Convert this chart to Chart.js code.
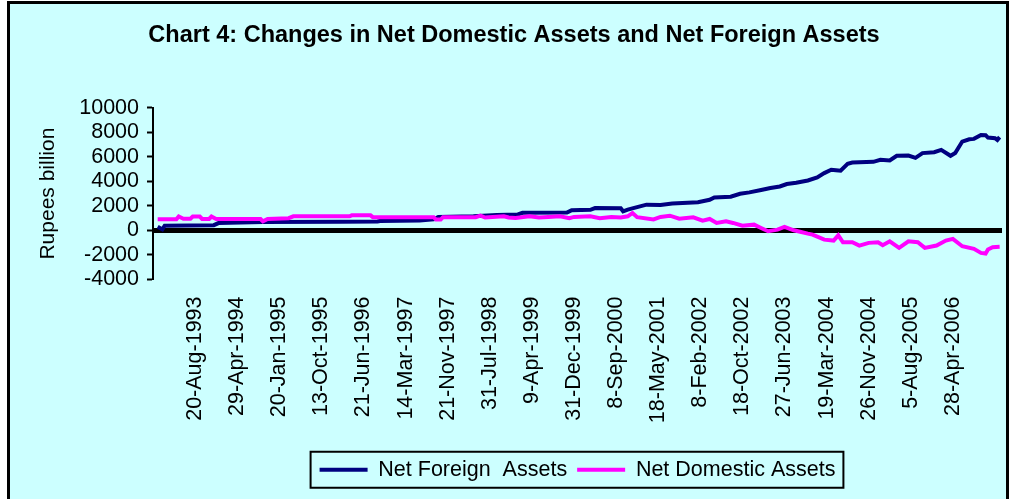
<!DOCTYPE html>
<html><head><meta charset="utf-8">
<script src="https://cdn.jsdelivr.net/npm/chart.js@4.4.1/dist/chart.umd.min.js"></script>
<style>
html,body{margin:0;padding:0;background:#fff;width:1009px;height:499px;overflow:hidden;}
#frame{position:absolute;left:7px;top:1px;width:996px;height:540px;border:3px solid #000;background:#CCFFFF;}
#wrap{position:absolute;left:0;top:0;width:1009px;height:499px;}
</style></head><body>
<div id="frame"></div>
<div id="wrap"><canvas id="c" width="1009" height="499"></canvas></div>
<script>
// x positions are fortnightly reporting-period indexes
const tickPeriods = [16, 34, 52, 70, 88, 106, 124, 142, 160, 178, 196, 214, 232, 250, 268, 286, 304, 322, 340];
const tickLabels = ["20-Aug-1993","29-Apr-1994","20-Jan-1995","13-Oct-1995","21-Jun-1996","14-Mar-1997","21-Nov-1997","31-Jul-1998","9-Apr-1999","31-Dec-1999","8-Sep-2000","18-May-2001","8-Feb-2002","18-Oct-2002","27-Jun-2003","19-Mar-2004","26-Nov-2004","5-Aug-2005","28-Apr-2006"];

const nfaPeriods = [0,2,3,24,26,45,78,94,95,112,118,120,135,145,154,156,175,177,185,187,198,199,201,205,209,215,220,231,236,238,245,249,253,258,262,266,269,273,278,282,285,288,290,292,295,297,306,309,313,316,321,324,327,332,335,339,341,344,347,349,352,354,355,358,359,360];
const nfaValues = [300,80,380,430,600,680,700,720,760,800,900,1100,1150,1250,1300,1430,1450,1650,1680,1820,1800,1560,1700,1900,2100,2080,2200,2300,2500,2690,2750,2990,3100,3300,3450,3580,3780,3880,4070,4315,4670,4940,4900,4860,5430,5530,5590,5750,5700,6080,6100,5915,6300,6375,6565,6080,6300,7240,7430,7460,7780,7760,7565,7515,7375,7600];

const ndaPeriods = [0,8,9,11,14,15,18,19,22,23,25,44,45,47,56,58,82,83,91,92,118,119,121,122,136,138,140,148,150,153,159,163,167,172,176,178,185,189,194,198,201,203,205,212,215,219,223,229,233,236,239,243,246,250,255,258,261,265,268,272,278,280,285,289,291,293,297,300,304,308,310,313,317,321,325,328,333,337,340,344,349,352,354,355,357,360];
const ndaValues = [900,900,1130,950,950,1130,1130,930,930,1130,930,930,740,930,1000,1150,1150,1230,1230,1080,1080,880,880,1080,1080,1200,1050,1150,1050,1020,1150,1050,1100,1150,1000,1100,1150,1000,1100,1050,1150,1420,1080,900,1100,1200,960,1065,800,935,610,740,610,390,470,200,-70,65,285,10,-260,-340,-750,-830,-400,-965,-965,-1235,-1015,-965,-1210,-885,-1420,-885,-965,-1420,-1235,-830,-690,-1290,-1500,-1830,-1885,-1560,-1370,-1340];

const yMin = -4000, yMax = 10000, yStep = 2000;

const FONT = "'Liberation Sans', Arial, sans-serif";

const legendBorder = {
  id: 'legendBorder',
  afterDraw(chart) {
    const lg = chart.legend;
    if (!lg || !lg.legendHitBoxes || !lg.legendHitBoxes.length) return;
    const hb = lg.legendHitBoxes;
    let l = Infinity, r = -Infinity;
    hb.forEach(h => { l = Math.min(l, h.left); r = Math.max(r, h.left + h.width); });
    const cy = hb[0].top + hb[0].height / 2;
    const ctx = chart.ctx;
    ctx.save();
    ctx.strokeStyle = '#000';
    ctx.lineWidth = 2;
    ctx.strokeRect(l - 9, cy - 18, (r - l) + 17, 36);
    ctx.restore();
  }
};

new Chart(document.getElementById('c'), {
  type: 'line',
  data: {
    datasets: [
      {
        label: 'Net Foreign  Assets',
        data: nfaPeriods.map((p, i) => ({x: p, y: nfaValues[i]})),
        borderColor: '#000080', backgroundColor: '#000080',
        borderWidth: 4, pointRadius: 0, tension: 0, order: 1
      },
      {
        label: 'Net Domestic Assets',
        data: ndaPeriods.map((p, i) => ({x: p, y: ndaValues[i]})),
        borderColor: '#FF00FF', backgroundColor: '#FF00FF',
        borderWidth: 4, pointRadius: 0, tension: 0, order: 0
      }
    ]
  },
  options: {
    responsive: false,
    animation: false,
    layout: {padding: {left: 26, right: 7, top: 0, bottom: 8.5}},
    plugins: {
      tooltip: {enabled: false},
      title: {
        display: true,
        text: 'Chart 4: Changes in Net Domestic Assets and Net Foreign Assets',
        color: '#000',
        font: {family: FONT, size: 23.5, weight: 'bold'},
        padding: {top: 21, bottom: 58.5}
      },
      legend: {
        position: 'bottom',
        fullSize: false,
        labels: {
          color: '#000',
          font: {family: FONT, size: 21.5},
          usePointStyle: true,
          pointStyle: 'line',
          pointStyleWidth: 48,
          padding: 10,
          sort: (a, b) => a.datasetIndex - b.datasetIndex
        }
      }
    },
    scales: {
      x: {
        type: 'linear',
        min: -2, max: 361,
        afterBuildTicks(scale) { scale.ticks = tickPeriods.map(v => ({value: v})); },
        afterFit(scale) { scale.height = 169.5; },
        ticks: {
          autoSkip: false, maxRotation: 90, minRotation: 90, padding: 17,
          color: '#000', font: {family: FONT, size: 21.5},
          callback: (v) => { const i = tickPeriods.indexOf(v); return i >= 0 ? tickLabels[i] : ''; }
        },
        grid: {display: false, drawTicks: false},
        border: {display: false}
      },
      y: {
        min: yMin, max: yMax,
        afterFit(scale) { scale.width = 127; },
        ticks: {
          stepSize: yStep, autoSkip: false, color: '#000', padding: 8,
          font: {family: FONT, size: 21.5},
          callback: (v) => String(v)
        },
        grid: {
          drawOnChartArea: true,
          color: (c) => c.tick && c.tick.value === 0 ? '#000' : 'rgba(0,0,0,0)',
          lineWidth: (c) => c.tick && c.tick.value === 0 ? 5 : 1,
          tickColor: '#000', tickWidth: 2, tickLength: 6
        },
        border: {display: true, color: '#000', width: 2},
        title: {
          display: true, text: 'Rupees billion', color: '#000',
          font: {family: FONT, size: 21}, padding: {top: 10, bottom: 0}
        }
      }
    }
  },
  plugins: [legendBorder]
});
</script>
</body></html>
